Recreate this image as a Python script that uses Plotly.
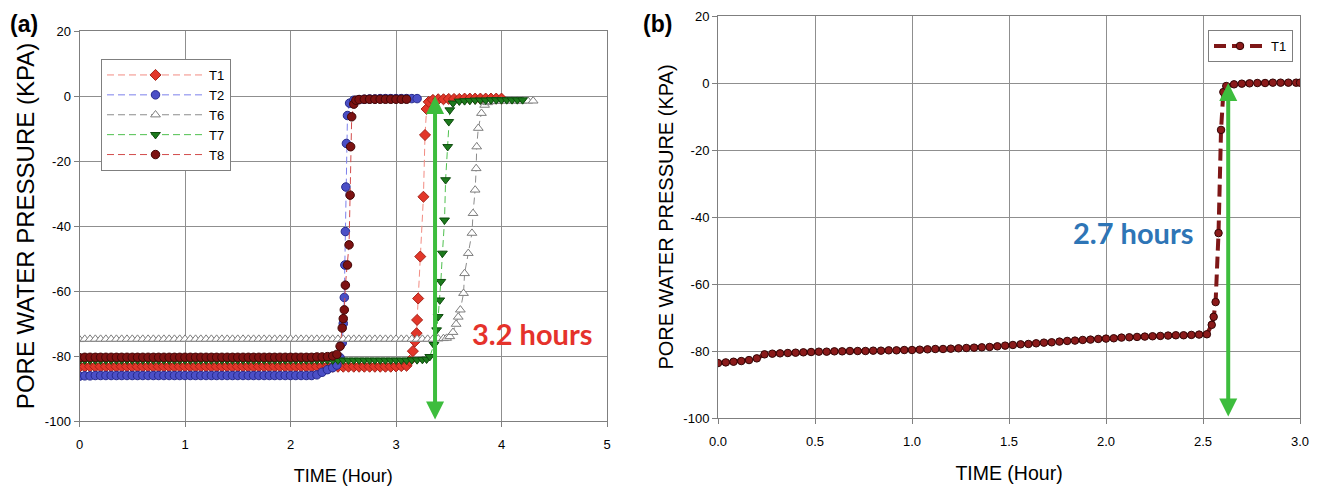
import plotly.graph_objects as go

# ---------------- DATA ----------------
# shared sampling grid (hours) for panel (a)
grid_a = [0.00, 0.05, 0.10, 0.15, 0.20, 0.25, 0.30, 0.35, 0.40, 0.45,
          0.50, 0.55, 0.60, 0.65, 0.70, 0.75, 0.80, 0.85, 0.90, 0.95,
          1.00, 1.05, 1.10, 1.15, 1.20, 1.25, 1.30, 1.35, 1.40, 1.45,
          1.50, 1.55, 1.60, 1.65, 1.70, 1.75, 1.80, 1.85, 1.90, 1.95,
          2.00, 2.05, 2.10, 2.15, 2.20, 2.25, 2.30, 2.35, 2.40, 2.45,
          2.50, 2.55, 2.60, 2.65, 2.70, 2.75, 2.80, 2.85, 2.90, 2.95,
          3.00, 3.05, 3.10, 3.15, 3.20, 3.25, 3.30, 3.35, 3.40, 3.45,
          3.50, 3.55, 3.60, 3.65, 3.70, 3.75, 3.80, 3.85, 3.90, 3.95,
          4.00, 4.05, 4.10, 4.15, 4.20, 4.25, 4.30]

# T1 (panel a)
t1_flat = [-83.4, -83.3, -83.3, -83.3, -83.3, -83.3, -83.3, -83.3, -83.3, -83.3,
           -83.3, -83.3, -83.3, -83.3, -83.3, -83.3, -83.3, -83.3, -83.3, -83.3,
           -83.3, -83.3, -83.3, -83.3, -83.3, -83.3, -83.3, -83.3, -83.3, -83.3,
           -83.3, -83.3, -83.3, -83.3, -83.3, -83.3, -83.3, -83.3, -83.3, -83.3,
           -83.3, -83.3, -83.3, -83.3, -83.3, -83.3, -83.3, -83.3, -83.3, -83.3,
           -83.3, -83.3, -83.3, -83.3, -83.3, -83.3, -83.3, -83.3, -83.3, -83.3,
           -83.2, -83.1]
t1_rise_time = [3.10, 3.13, 3.16, 3.18, 3.195, 3.20, 3.21, 3.23, 3.26, 3.275, 3.29, 3.31]
t1_rise_kpa = [-83.0, -81.5, -78.5, -75.5, -73.0, -68.9, -62.3, -49.4, -31.0, -12.0, -4.0, -1.8]
t1_top_start = 3.35
t1_top = [-1.2, -1.0, -1.0, -0.9, -0.9, -0.9, -0.8, -0.8, -0.8, -0.8, -0.8, -0.8, -0.8, -0.8]

# T2 (panel a)
t2_flat = [-86.2, -86.1, -86.1, -86.0, -86.0, -86.0, -86.0, -86.0, -86.0, -86.0,
           -86.0, -86.0, -86.0, -86.0, -86.0, -86.0, -86.0, -86.0, -86.0, -86.0,
           -86.0, -86.0, -86.0, -86.0, -86.0, -86.0, -86.0, -86.0, -86.0, -86.0,
           -86.0, -86.0, -86.0, -86.0, -86.0, -86.0, -86.0, -86.0, -86.0, -86.0,
           -86.0, -86.0, -86.0, -86.0, -86.0, -85.8, -85.0, -84.2]
t2_rise_time = [2.40, 2.44, 2.47, 2.49, 2.50, 2.51, 2.515, 2.52, 2.525, 2.53, 2.54, 2.56]
t2_rise_kpa = [-83.6, -82.8, -80.5, -76.0, -70.0, -62.0, -52.0, -41.7, -28.0, -14.6, -6.0, -2.2]
t2_top_start = 2.60
t2_top = [-1.3, -1.1, -1.0, -0.9, -0.9, -0.8, -0.8, -0.8, -0.8, -0.8, -0.8, -0.8, -0.8]

# T6 (panel a)
t6_flat = [-74.9, -74.8, -74.8, -74.8, -74.8, -74.8, -74.8, -74.8, -74.8, -74.8,
           -74.8, -74.8, -74.8, -74.8, -74.8, -74.8, -74.8, -74.8, -74.8, -74.8,
           -74.8, -74.8, -74.8, -74.8, -74.8, -74.8, -74.8, -74.8, -74.8, -74.8,
           -74.8, -74.8, -74.8, -74.8, -74.8, -74.8, -74.8, -74.8, -74.8, -74.8,
           -74.8, -74.8, -74.8, -74.8, -74.8, -74.8, -74.8, -74.8, -74.8, -74.8,
           -74.8, -74.8, -74.8, -74.8, -74.8, -74.8, -74.8, -74.8, -74.8, -74.8,
           -74.8, -74.8, -74.8, -74.8, -74.8, -74.8, -74.8, -74.8, -74.7, -74.6]
t6_rise_time = [3.48, 3.51, 3.54, 3.57, 3.59, 3.61, 3.64, 3.65, 3.685, 3.72, 3.73, 3.75,
                3.76, 3.765, 3.78, 3.81, 3.84, 3.87]
t6_rise_kpa = [-74.5, -74.0, -72.7, -70.2, -68.0, -65.8, -60.7, -54.6, -48.4, -42.2, -36.1, -28.9,
               -22.3, -15.6, -9.9, -5.3, -2.8, -2.0]
t6_top_start = 3.90
t6_top = [-1.7, -1.6, -1.5, -1.5, -1.5, -1.5, -1.5, -1.5, -1.5]

# T7 (panel a)
t7_flat = [-81.4, -81.3, -81.3, -81.3, -81.3, -81.3, -81.3, -81.3, -81.3, -81.3,
           -81.3, -81.3, -81.3, -81.3, -81.3, -81.3, -81.3, -81.3, -81.3, -81.3,
           -81.3, -81.3, -81.3, -81.3, -81.3, -81.3, -81.3, -81.3, -81.3, -81.3,
           -81.3, -81.3, -81.3, -81.3, -81.3, -81.3, -81.3, -81.3, -81.3, -81.3,
           -81.3, -81.3, -81.3, -81.3, -81.3, -81.3, -81.3, -81.3, -81.3, -81.3,
           -81.3, -81.3, -81.3, -81.3, -81.3, -81.3, -81.3, -81.3, -81.3, -81.3,
           -81.3, -81.3, -81.3, -81.2, -81.2, -81.1]
t7_rise_time = [3.29, 3.32, 3.36, 3.385, 3.40, 3.415, 3.425, 3.44, 3.46, 3.47, 3.49, 3.50, 3.51, 3.54]
t7_rise_kpa = [-81.0, -80.2, -76.5, -72.0, -67.9, -62.8, -57.1, -48.4, -38.2, -25.8, -15.6, -7.9, -4.3, -2.2]
t7_top_start = 3.60
t7_top = [-1.6, -1.5, -1.4, -1.3, -1.3, -1.3, -1.2, -1.2, -1.2, -1.2, -1.2, -1.2, -1.2]

# T8 (panel a)
t8_flat = [-80.5, -80.4, -80.4, -80.4, -80.4, -80.4, -80.4, -80.4, -80.4, -80.4,
           -80.4, -80.4, -80.4, -80.4, -80.4, -80.4, -80.4, -80.4, -80.4, -80.4,
           -80.4, -80.4, -80.4, -80.4, -80.4, -80.4, -80.4, -80.4, -80.4, -80.4,
           -80.4, -80.4, -80.4, -80.4, -80.4, -80.4, -80.4, -80.4, -80.4, -80.4,
           -80.4, -80.4, -80.4, -80.4, -80.4, -80.3, -80.3, -80.2, -80.0]
t8_rise_time = [2.44, 2.47, 2.49, 2.50, 2.51, 2.52, 2.54, 2.555, 2.565, 2.57, 2.58, 2.60, 2.62]
t8_rise_kpa = [-79.5, -77.0, -71.4, -68.5, -65.8, -58.2, -52.0, -45.8, -30.5, -15.6, -6.4, -2.5, -1.3]
t8_top_start = 2.65
t8_top = [-1.1, -1.0, -1.0, -1.0, -1.0, -1.0, -1.0, -1.0, -1.0, -1.0]

# Panel (b): T1
b_time = [0.00, 0.04, 0.08, 0.12, 0.16, 0.20, 0.24, 0.28, 0.32, 0.36,
          0.40, 0.44, 0.48, 0.52, 0.56, 0.60, 0.64, 0.68, 0.72, 0.76,
          0.80, 0.84, 0.88, 0.92, 0.96, 1.00, 1.04, 1.08, 1.12, 1.16,
          1.20, 1.24, 1.28, 1.32, 1.36, 1.40, 1.44, 1.48, 1.52, 1.56,
          1.60, 1.64, 1.68, 1.72, 1.76, 1.80, 1.84, 1.88, 1.92, 1.96,
          2.00, 2.04, 2.08, 2.12, 2.16, 2.20, 2.24, 2.28, 2.32, 2.36,
          2.40, 2.44, 2.48, 2.52, 2.545, 2.555, 2.565, 2.58, 2.593, 2.605,
          2.62, 2.66, 2.70, 2.74, 2.78, 2.82, 2.86, 2.90, 2.94, 2.98, 3.00]
b_kpa = [-83.6, -83.4, -83.2, -83.0, -82.7, -82.2, -81.0, -80.8, -80.7, -80.6,
         -80.5, -80.4, -80.3, -80.2, -80.2, -80.1, -80.1, -80.0, -80.0, -80.0,
         -79.9, -79.9, -79.8, -79.8, -79.7, -79.7, -79.6, -79.5, -79.4, -79.4,
         -79.3, -79.2, -79.1, -79.0, -78.9, -78.8, -78.6, -78.4, -78.2, -78.0,
         -77.9, -77.7, -77.5, -77.4, -77.2, -77.0, -76.9, -76.7, -76.6, -76.4,
         -76.3, -76.2, -76.0, -75.9, -75.8, -75.7, -75.6, -75.5, -75.4, -75.3,
         -75.3, -75.2, -75.1, -75.0, -72.2, -69.8, -65.4, -44.8, -14.0, -2.7,
         -0.9, -0.4, -0.2, -0.1, 0.0, 0.0, 0.1, 0.1, 0.1, 0.1, 0.1]

series_names = ["T1", "T2", "T6", "T7", "T8"]
arrow_a_time = 3.37
arrow_b_time = 2.63

y_tick_vals = [-100, -80, -60, -40, -20, 0, 20]
y_tick_text = ["-100", "-80", "-60", "-40", "-20", "0", "20"]
xa_tick_vals = [0, 1, 2, 3, 4, 5]
xb_tick_vals = [0.0, 0.5, 1.0, 1.5, 2.0, 2.5, 3.0]
xb_tick_text = ["0.0", "0.5", "1.0", "1.5", "2.0", "2.5", "3.0"]


def build(flat, rise_t, rise_v, top_start, top):
    i0 = grid_a.index(top_start)
    t = grid_a[:len(flat)] + rise_t + grid_a[i0:i0 + len(top)]
    v = flat + rise_v + top
    return t, v


series_a = {
    "T1": build(t1_flat, t1_rise_time, t1_rise_kpa, t1_top_start, t1_top),
    "T2": build(t2_flat, t2_rise_time, t2_rise_kpa, t2_top_start, t2_top),
    "T6": build(t6_flat, t6_rise_time, t6_rise_kpa, t6_top_start, t6_top),
    "T7": build(t7_flat, t7_rise_time, t7_rise_kpa, t7_top_start, t7_top),
    "T8": build(t8_flat, t8_rise_time, t8_rise_kpa, t8_top_start, t8_top),
}

# ---------------- STYLES ----------------
styles = {
    "T1": dict(symbol="diamond", fill="#e2372a", edge="#a52218", line="#f28b82"),
    "T2": dict(symbol="circle", fill="#4b4fc6", edge="#262a8c", line="#7c80ec"),
    "T6": dict(symbol="triangle-up", fill="#ffffff", edge="#7d7d7d", line="#8c8c8c"),
    "T7": dict(symbol="triangle-down", fill="#1c7a1c", edge="#0d4a0d", line="#4fc04f"),
    "T8": dict(symbol="circle", fill="#7d1212", edge="#420606", line="#d24b4b"),
}

fig = go.Figure()
for name in series_names:
    t, v = series_a[name]
    s = styles[name]
    fig.add_trace(go.Scatter(
        x=t, y=v, name=name, mode="lines+markers", xaxis="x", yaxis="y",
        line=dict(color=s["line"], width=1, dash="7px,4px"),
        marker=dict(symbol=s["symbol"], size=8.5, color=s["fill"],
                    line=dict(color=s["edge"], width=1)),
        legend="legend",
    ))

fig.add_trace(go.Scatter(
    x=b_time, y=b_kpa, name="T1", mode="lines+markers", xaxis="x2", yaxis="y2",
    line=dict(color="#7e1717", width=4, dash="12px,6px"),
    marker=dict(symbol="circle", size=7.5, color="#8b1a1a", line=dict(color="#330505", width=1)),
    legend="legend2",
))

FONT = "Liberation Sans, Arial, sans-serif"
grid_col = "#8f8f8f"
axis_col = "#7f7f7f"
tick_font = dict(family=FONT, size=13, color="black")

# the page body adds an 8 px offset; layout positions below are in figure pixels
W, H = 1327, 496

common_x = dict(showgrid=True, gridcolor=grid_col, gridwidth=1, showline=True, linecolor=axis_col,
                linewidth=1, mirror=True, ticks="outside", ticklen=5, tickcolor=axis_col,
                zeroline=False, tickfont=tick_font, ticklabelstandoff=6, automargin=False,
                tickmode="array")
common_y = dict(showgrid=True, gridcolor=grid_col, gridwidth=1, showline=True, linecolor=axis_col,
                linewidth=1, mirror=True, ticks="outside", ticklen=5, tickcolor=axis_col,
                zeroline=False, tickfont=tick_font, range=[-100, 20], automargin=False,
                tickmode="array", tickvals=y_tick_vals, ticktext=y_tick_text)

fig.update_layout(
    width=W, height=H,
    margin=dict(l=0, r=0, t=0, b=0, autoexpand=False),
    paper_bgcolor="white", plot_bgcolor="white",
    font=dict(family=FONT, size=13, color="black"),
    showlegend=True,
    xaxis=dict(domain=[71.5 / W, 599 / W], range=[0, 5], anchor="y",
               tickvals=xa_tick_vals, ticktext=[str(v) for v in xa_tick_vals],
               title=dict(text="TIME (Hour)", font=dict(family=FONT, size=18, color="black"), standoff=18),
               **common_x),
    yaxis=dict(domain=[1 - 413 / H, 1 - 23 / H], anchor="x",
               title=dict(text="PORE WATER PRESSURE (KPA)", font=dict(family=FONT, size=24, color="black"),
                          standoff=3),
               **common_y),
    xaxis2=dict(domain=[710 / W, 1292 / W], range=[0, 3], anchor="y2",
                tickvals=xb_tick_vals, ticktext=xb_tick_text,
                title=dict(text="TIME (Hour)", font=dict(family=FONT, size=19.5, color="black"), standoff=18),
                **common_x),
    yaxis2=dict(domain=[1 - 410 / H, 1 - 8 / H], anchor="x2",
                title=dict(text="PORE WATER PRESSURE (KPA)", font=dict(family=FONT, size=20, color="black"),
                           standoff=4),
                **common_y),
    legend=dict(x=93 / W, y=1 - 51 / H, xanchor="left", yanchor="top",
                bordercolor=axis_col, borderwidth=1, bgcolor="white",
                font=dict(size=13, color="black"), itemwidth=97, tracegroupgap=0),
    legend2=dict(x=1200 / W, y=1 - 22 / H, xanchor="left", yanchor="top",
                 bordercolor=axis_col, borderwidth=1, bgcolor="white",
                 font=dict(size=13, color="black"), itemwidth=52),
)

arrow_green = "#3dbd3d"
fig.add_annotation(x=arrow_a_time, y=0, ax=arrow_a_time, ay=-100, xref="x", yref="y", axref="x", ayref="y",
                   text="", showarrow=True, arrowhead=2, arrowside="end+start", arrowwidth=4,
                   arrowsize=0.9, arrowcolor=arrow_green, standoff=0, startstandoff=0)
fig.add_annotation(x=arrow_b_time, y=0, ax=arrow_b_time, ay=-100, xref="x2", yref="y2", axref="x2", ayref="y2",
                   text="", showarrow=True, arrowhead=2, arrowside="end+start", arrowwidth=4,
                   arrowsize=0.9, arrowcolor=arrow_green, standoff=0, startstandoff=0)

fig.add_annotation(x=4.29, y=-73, xref="x", yref="y", text="<b>3.2 hours</b>", showarrow=False,
                   font=dict(family="Lato, sans-serif", size=29, color="#e5322b"))
fig.add_annotation(x=2.14, y=-44.5, xref="x2", yref="y2", text="<b>2.7 hours</b>", showarrow=False,
                   font=dict(family="Lato, sans-serif", size=29, color="#2e75b6"))

fig.add_annotation(x=0 / W, y=1 - 16 / H, xref="paper", yref="paper", xanchor="left", yanchor="middle",
                   text="<b>(a)</b>", showarrow=False,
                   font=dict(family=FONT, size=23, color="black"))
fig.add_annotation(x=633 / W, y=1 - 16 / H, xref="paper", yref="paper", xanchor="left", yanchor="middle",
                   text="<b>(b)</b>", showarrow=False,
                   font=dict(family=FONT, size=23, color="black"))

fig.write_html("out.html")
